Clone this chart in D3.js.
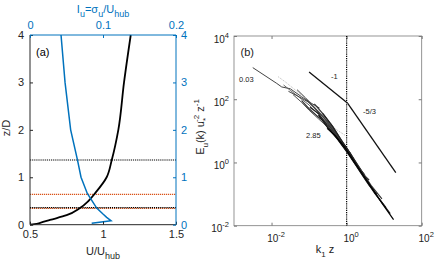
<!DOCTYPE html>
<html><head><meta charset="utf-8">
<script src="https://cdn.jsdelivr.net/npm/d3@7"></script>
<style>body{margin:0;background:#fff}svg{display:block;font-family:"Liberation Sans",Arial,sans-serif}</style>
</head><body>
<script>
// ---------- Panel (a) data ----------
const zProfile = [0, 0.01, 0.04, 0.1, 0.2, 0.35, 0.5, 0.66, 1, 1.365, 2, 3, 4];
const uProfile = [0.5, 0.53, 0.57, 0.637, 0.751, 0.842, 0.9, 0.945, 1.025, 1.06, 1.105, 1.144, 1.19];
const zTI = [0.03, 0.085, 0.156, 0.225, 0.35, 0.66, 1, 1.365, 2, 3, 4];
const tiProfile = [0.0845, 0.111, 0.105, 0.1, 0.0914, 0.0785, 0.0699, 0.065, 0.0557, 0.048, 0.0425];
const hLinesBlack = [1.365, 0.36];
const hLinesOrange = [0.64, 0.345];
const uTicks = [0.5, 1, 1.5];
const tiTicks = [0, 0.1, 0.2];
const zTicks = [0, 1, 2, 3, 4];

// ---------- Panel (b) data (k1 z, normalized spectrum) ----------
const specZ003 = {k:[0.00316,0.0138,0.0186,0.0316,0.063,0.112,0.19], E:[1000,316,245,214,120,76,52.5]};
const specZ014 = {k:[0.0151,0.0251,0.0316,0.0562,0.1,0.178,0.316,0.49,0.912], E:[513,331,263,151,89,44.7,22.4,11.7,7.2]};
const specZ020 = {k:[0.0209,0.0316,0.0562,0.1,0.178,0.316,0.562,1.0,1.32], E:[282,191,112,66,33,16.6,6.3,2.51,1.91]};
const specZ027 = {k:[0.0282,0.05,0.1,0.178,0.316,0.562,1.0,1.78], E:[178,126,79,40,19,6.9,2.4,1.0]};
const specZ035 = {k:[0.0372,0.063,0.1,0.178,0.316,0.562,1.0,1.78,2.34], E:[141,80,45,24,13,5.6,2.24,0.83,0.63]};
const specZ045 = {k:[0.0479,0.0794,0.126,0.2,0.316,0.562,1.0,1.78,3.02], E:[200,112,63,33,17.8,6.6,2.51,0.89,0.42]};
const specZ060 = {k:[0.063,0.1,0.178,0.316,0.562,1.0,1.78,3.16,3.98], E:[90,50,27,16,7.0,2.9,1.0,0.36,0.28]};
const specZ080 = {k:[0.085,0.141,0.251,0.447,0.794,1.41,2.51,3.98,5.37], E:[95,52.5,26.3,11.2,3.98,1.25,0.43,0.19,0.125]};
const specZ100 = {k:[0.105,0.178,0.316,0.562,1.0,1.78,3.16,5.62,6.61], E:[56,35.5,14,6.0,2.63,0.89,0.316,0.12,0.1]};
const specZ130 = {k:[0.138,0.251,0.447,0.794,1.41,2.51,4.47,8.71], E:[71,31.6,12.6,4.17,1.55,0.53,0.19,0.07]};
const specZ170 = {k:[0.178,0.316,0.562,1.0,1.78,3.16,5.62,11.2], E:[31.6,12.5,5.6,2.2,0.8,0.29,0.105,0.037]};
const specZ220 = {k:[0.229,0.398,0.708,1.26,2.24,3.98,7.08,14.5], E:[35.5,15.1,5.25,1.91,0.575,0.209,0.076,0.024]};
const specZ285 = {k:[0.302,0.501,0.891,1.58,2.82,5.01,8.91,17.8], E:[12,7.0,3.02,1.07,0.38,0.138,0.05,0.0155]};
const spectra = [specZ003,specZ014,specZ020,specZ027,specZ035,specZ045,specZ060,specZ080,specZ100,specZ130,specZ170,specZ220,specZ285];
const specGrey = ["#444","#999","#666","#444","#555","#444","#333","#444","#222","#333","#111","#222","#000"];
const slopeM1 = {k:[0.1, 1.07], E:[724, 74]};
const slopeM53 = {k:[1.07, 20.4], E:[74, 0.48]};
const kRefLine = 1;
const decadeTicksX = [1e-2, 1, 1e2];
const decadeTicksY = [1e-2, 1, 1e2, 1e4];

const W = 437, H = 263;
const svg = d3.select("body").append("svg").attr("width", W).attr("height", H);
const BLUE = "#0072BD", ORANGE = "#D95319", AX = "#262626";

// ===== Panel (a) =====
const ax = {l:30, r:176, t:35, b:224.7};
const xU = d3.scaleLinear().domain([0.5,1.5]).range([ax.l, ax.r]);
const xTI = d3.scaleLinear().domain([0,0.2]).range([ax.l, ax.r]);
const yZ = d3.scaleLinear().domain([0,4]).range([ax.b, ax.t]);
const ga = svg.append("g");

hLinesOrange.forEach(z => ga.append("line").attr("x1",ax.l).attr("x2",ax.r).attr("y1",yZ(z)).attr("y2",yZ(z))
  .attr("stroke",ORANGE).attr("stroke-width",1.2).attr("stroke-dasharray","1.2,0.8"));
hLinesBlack.forEach(z => ga.append("line").attr("x1",ax.l).attr("x2",ax.r).attr("y1",yZ(z)).attr("y2",yZ(z))
  .attr("stroke","#000").attr("stroke-width",1.1).attr("stroke-dasharray","1.2,0.9"));

ga.append("path").datum(zProfile.map((z,i)=>[uProfile[i],z]))
  .attr("d", d3.line().x(d=>xU(d[0])).y(d=>yZ(d[1])).curve(d3.curveMonotoneY))
  .attr("fill","none").attr("stroke","#000").attr("stroke-width",1.8);
ga.append("path").datum(zTI.map((z,i)=>[tiProfile[i],z]))
  .attr("d", d3.line().x(d=>xTI(d[0])).y(d=>yZ(d[1])))
  .attr("fill","none").attr("stroke",BLUE).attr("stroke-width",1.5);

const axL = ga.append("g").attr("transform",`translate(${ax.l},0)`)
  .call(d3.axisLeft(yZ).tickValues(zTicks).tickSize(-3).tickPadding(6).tickFormat(d3.format("d")));
const axB = ga.append("g").attr("transform",`translate(0,${ax.b})`)
  .call(d3.axisBottom(xU).tickValues(uTicks).tickSize(-3).tickPadding(6).tickFormat(d=>d===1?"1":d));
const axT = ga.append("g").attr("transform",`translate(0,${ax.t})`)
  .call(d3.axisTop(xTI).tickValues(tiTicks).tickSize(-3).tickPadding(6).tickFormat(d=>d===0?"0":d));
const axR = ga.append("g").attr("transform",`translate(${ax.r},0)`)
  .call(d3.axisRight(yZ).tickValues(zTicks).tickSize(-3).tickPadding(5).tickFormat(d3.format("d")));
[axL,axB].forEach(g=>{g.selectAll("path,line").attr("stroke",AX);g.selectAll("text").attr("fill",AX).style("font-size","11px");});
[axT,axR].forEach(g=>{g.selectAll("path,line").attr("stroke",BLUE);g.selectAll("text").attr("fill",BLUE).style("font-size","11px");});
[axL,axB,axT,axR].forEach(g=>g.select(".domain").attr("stroke-width",1));
axL.select(".domain").attr("d",`M0,${ax.b}V${ax.t}`);
axR.select(".domain").attr("d",`M0,${ax.b}V${ax.t}`);
axB.select(".domain").attr("d",`M${ax.l},0H${ax.r}`);
axT.select(".domain").attr("d",`M${ax.l},0H${ax.r}`);

ga.append("text").attr("x",36).attr("y",56).text("(a)").style("font-size","11px").attr("fill","#000");
const tU = ga.append("text").attr("x",103).attr("y",255).attr("text-anchor","middle").style("font-size","11px").attr("fill",AX);
tU.append("tspan").text("U/U");
tU.append("tspan").text("hub").attr("dy",4).style("font-size","9px");
const tI = ga.append("text").attr("x",103).attr("y",13).attr("text-anchor","middle").style("font-size","11px").attr("fill",BLUE);
tI.append("tspan").text("I");
tI.append("tspan").text("u").attr("dy",4).style("font-size","9px");
tI.append("tspan").text("=σ").attr("dy",-4);
tI.append("tspan").text("u").attr("dy",4).style("font-size","9px");
tI.append("tspan").text("/U").attr("dy",-4);
tI.append("tspan").text("hub").attr("dy",4).style("font-size","9px");
ga.append("text").attr("transform","translate(10,128) rotate(-90)").attr("text-anchor","middle")
  .style("font-size","11px").attr("fill",AX).text("z/D");

// ===== Panel (b) =====
const bx = {l:234, r:421.7, t:36, b:225.7};
const xK = d3.scaleLog().domain([1e-3,1e2]).range([bx.l, bx.r]);
const yE = d3.scaleLog().domain([1e-2,1e4]).range([bx.b, bx.t]);
const gb = svg.append("g");
const FR = "#7a7a7a";
gb.append("rect").attr("x",bx.l).attr("y",bx.t).attr("width",bx.r-bx.l).attr("height",bx.b-bx.t)
  .attr("fill","none").attr("stroke",FR).attr("stroke-width",0.8);
const supFmt = d => Math.round(Math.log10(d));
function decadeLabel(sel){
  sel.each(function(d){
    const t=d3.select(this); t.text(null);
    t.append("tspan").text("10");
    t.append("tspan").text(supFmt(d)).attr("dy",-5).style("font-size","7.5px");
  });
}
const bB = gb.append("g").attr("transform",`translate(0,${bx.b})`)
  .call(d3.axisBottom(xK).tickValues(decadeTicksX).tickSize(-3).tickPadding(9));
const bT = gb.append("g").attr("transform",`translate(0,${bx.t})`)
  .call(d3.axisTop(xK).tickValues(decadeTicksX).tickSize(-3).tickFormat(""));
const bL = gb.append("g").attr("transform",`translate(${bx.l},0)`)
  .call(d3.axisLeft(yE).tickValues(decadeTicksY).tickSize(-3).tickPadding(5));
const bR = gb.append("g").attr("transform",`translate(${bx.r},0)`)
  .call(d3.axisRight(yE).tickValues(decadeTicksY).tickSize(-3).tickFormat(""));
[bB,bT,bL,bR].forEach(g=>{g.select(".domain").remove();g.selectAll("line").attr("stroke",FR);
  g.selectAll("text").attr("fill","#222").style("font-size","10px");});
bB.selectAll(".tick text").call(decadeLabel).attr("dx",4);
bL.selectAll(".tick text").call(decadeLabel).attr("dy","0.6em");

gb.append("line").attr("x1",xK(kRefLine)).attr("x2",xK(kRefLine)).attr("y1",bx.t).attr("y2",bx.b)
  .attr("stroke","#000").attr("stroke-width",1.2).attr("stroke-dasharray","1.2,1");

const lineKE = d3.line().x(d=>xK(d[0])).y(d=>yE(d[1]));
spectra.forEach((s,i)=>{
  gb.append("path").datum(s.k.map((k,j)=>[k,s.E[j]])).attr("d",lineKE)
    .attr("fill","none").attr("stroke",specGrey[i]).attr("stroke-width",i===1?0.7:(i>=6?1.2:1))
    .attr("stroke-dasharray",i===1?"1,1":null);
});
[slopeM1,slopeM53].forEach(s=>{
  gb.append("path").datum(s.k.map((k,j)=>[k,s.E[j]])).attr("d",lineKE)
    .attr("fill","none").attr("stroke","#111").attr("stroke-width",1.3);
});

const ann = [["(b)",240.5,56,11],["0.03",239,82,7.5],["-1",331,79,7.5],["-5/3",363,114,7.5],["2.85",306,138,7.5]];
ann.forEach(a=>gb.append("text").attr("x",a[1]).attr("y",a[2]).text(a[0]).style("font-size",a[3]+"px").attr("fill","#222"));

const tk = gb.append("text").attr("x",325).attr("y",253).attr("text-anchor","middle").style("font-size","11px").attr("fill","#222");
tk.append("tspan").text("k");
tk.append("tspan").text("1").attr("dy",4).style("font-size","8px");
tk.append("tspan").text(" z").attr("dy",-4);
const te = gb.append("text").attr("transform","translate(204,127) rotate(-90)").attr("text-anchor","middle")
  .style("font-size","11px").attr("fill","#222");
te.append("tspan").text("E");
te.append("tspan").text("u").attr("dy",4).style("font-size","8px");
te.append("tspan").text("(k) u").attr("dy",-4);
te.append("tspan").text("*").attr("dy",4).style("font-size","8px");
te.append("tspan").text("-2").attr("dy",-9).attr("dx",-4).style("font-size","8px");
te.append("tspan").text(" z").attr("dy",5);
te.append("tspan").text("-1").attr("dy",-5).style("font-size","8px");
</script>
</body></html>
